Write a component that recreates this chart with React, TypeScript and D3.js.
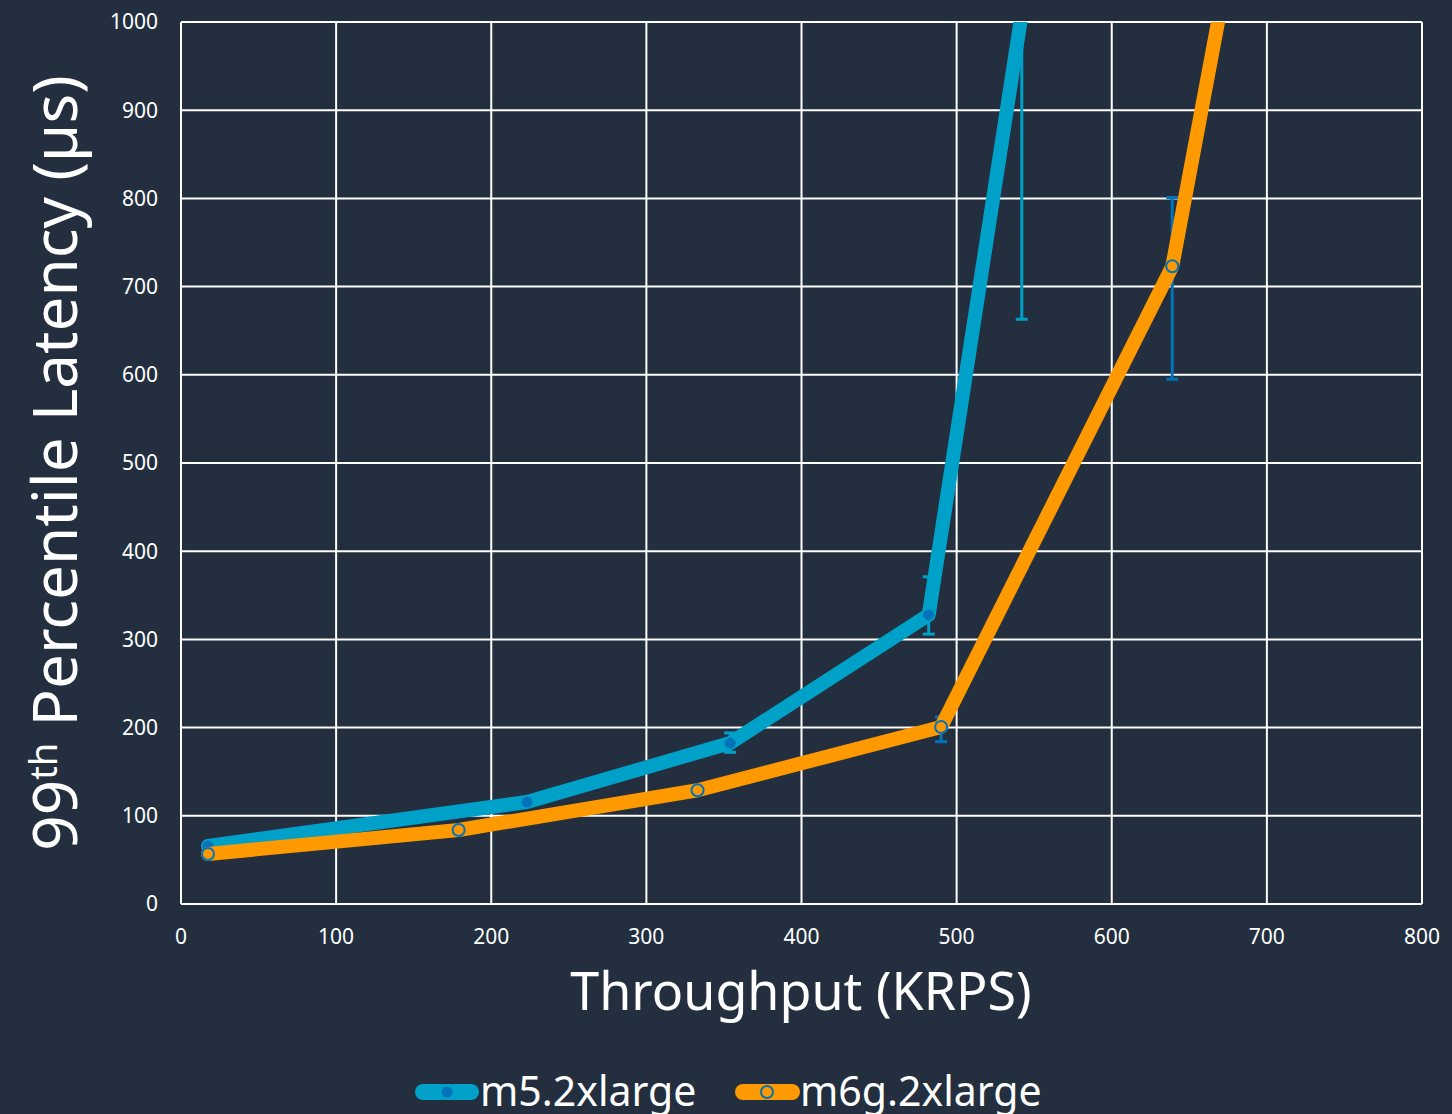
import React from "react";
import * as d3 from "d3";

const m5X = [17.4, 223, 354, 482, 542];
const m5Y = [65.8, 115.6, 182.5, 327.7, 1010];
const m5Low = [65.8, 115.6, 172, 306, 663];
const m5High = [65.8, 115.6, 194, 371, 1300];

const m6gX = [17.4, 179, 333, 490, 639, 680];
const m6gY = [56.7, 83.9, 129, 200.7, 723, 1108];
const m6gLow = [56.7, 83.9, 129, 184, 595, 1108];
const m6gHigh = [56.7, 83.9, 129, 212, 801, 1108];

const xTicks = [0, 100, 200, 300, 400, 500, 600, 700, 800];
const yTicks = [0, 100, 200, 300, 400, 500, 600, 700, 800, 900, 1000];

const BG = "#232f3e";
const BLUE = "#00a1c9";
const DARKBLUE = "#0073bb";
const ORANGE = "#ff9900";
const FONT = "'Noto Sans', 'Open Sans', sans-serif";

export default function App() {
  const W = 1452, H = 1114;
  const left = 181, right = 1422, top = 22, bottom = 904;
  const x = d3.scaleLinear().domain([0, 800]).range([left, right]);
  const y = d3.scaleLinear().domain([0, 1000]).range([bottom, top]);
  const line = d3.line<[number, number]>().x(d => x(d[0])).y(d => y(d[1]));

  const m5 = m5X.map((v, i) => [v, m5Y[i]] as [number, number]);
  const m6g = m6gX.map((v, i) => [v, m6gY[i]] as [number, number]);

  const errBars = (xs: number[], lo: number[], hi: number[], color: string) =>
    xs.map((xv, i) => {
      if (hi[i] - lo[i] < 1) return null;
      const cx = x(xv);
      return (
        <g key={i} stroke={color} strokeWidth={3}>
          <line x1={cx} x2={cx} y1={y(lo[i])} y2={y(hi[i])} />
          <line x1={cx - 6} x2={cx + 6} y1={y(lo[i])} y2={y(lo[i])} />
          <line x1={cx - 6} x2={cx + 6} y1={y(hi[i])} y2={y(hi[i])} />
        </g>
      );
    });

  return (
    <svg width={W} height={H} style={{ position: "absolute", left: 0, top: 0, background: BG }}>
      <rect x={0} y={0} width={W} height={H} fill={BG} />
      <defs>
        <clipPath id="plot">
          <rect x={left} y={top} width={right - left} height={bottom - top} />
        </clipPath>
      </defs>
      {/* grid */}
      {xTicks.map(t => (
        <line key={"gx" + t} x1={x(t)} x2={x(t)} y1={top} y2={bottom} stroke="#fff" strokeWidth={2} />
      ))}
      {yTicks.map(t => (
        <line key={"gy" + t} x1={left} x2={right} y1={y(t)} y2={y(t)} stroke="#fff" strokeWidth={2} />
      ))}
      <g clipPath="url(#plot)">
        {errBars(m5X, m5Low, m5High, BLUE)}
        <path d={line(m5) || ""} fill="none" stroke={BLUE} strokeWidth={14} strokeLinejoin="round" strokeLinecap="round" />
        {m5.map((d, i) => (
          <circle key={"m5" + i} cx={x(d[0])} cy={y(d[1])} r={5.5} fill={DARKBLUE} />
        ))}
        {errBars(m6gX, m6gLow, m6gHigh, DARKBLUE)}
        <path d={line(m6g) || ""} fill="none" stroke={ORANGE} strokeWidth={14} strokeLinejoin="round" strokeLinecap="round" />
        {m6g.map((d, i) => (
          <circle key={"m6" + i} cx={x(d[0])} cy={y(d[1])} r={6} fill="none" stroke={DARKBLUE} strokeWidth={2} />
        ))}
      </g>
      {/* tick labels */}
      {yTicks.map(t => (
        <text key={"yl" + t} x={158} y={y(t)} dy="0.35em" textAnchor="end" fill="#fff" fontSize={21} fontFamily={FONT}>
          {t}
        </text>
      ))}
      {xTicks.map(t => (
        <text key={"xl" + t} x={x(t)} y={944} textAnchor="middle" fill="#fff" fontSize={21} fontFamily={FONT}>
          {t}
        </text>
      ))}
      {/* axis titles */}
      <text x={801} y={1010} textAnchor="middle" fill="#fff" fontSize={52} fontFamily={FONT}>
        Throughput (KRPS)
      </text>
      <text transform="translate(77,463) rotate(-90)" textAnchor="middle" fill="#fff" fontSize={62} fontFamily={FONT}>
        99<tspan fontSize={38} dy={-20}>th</tspan>
        <tspan dy={20}> Percentile Latency (µs)</tspan>
      </text>
      {/* legend */}
      <g>
        <line x1={423} x2={471} y1={1092} y2={1092} stroke={BLUE} strokeWidth={16} strokeLinecap="round" />
        <circle cx={447} cy={1092} r={5.5} fill={DARKBLUE} />
        <text x={480} y={1106} fill="#fff" fontSize={41} fontFamily={FONT}>m5.2xlarge</text>
        <line x1={743} x2={792} y1={1092} y2={1092} stroke={ORANGE} strokeWidth={16} strokeLinecap="round" />
        <circle cx={767} cy={1092} r={6} fill="none" stroke={DARKBLUE} strokeWidth={2} />
        <text x={800} y={1106} fill="#fff" fontSize={41} fontFamily={FONT}>m6g.2xlarge</text>
      </g>
    </svg>
  );
}
